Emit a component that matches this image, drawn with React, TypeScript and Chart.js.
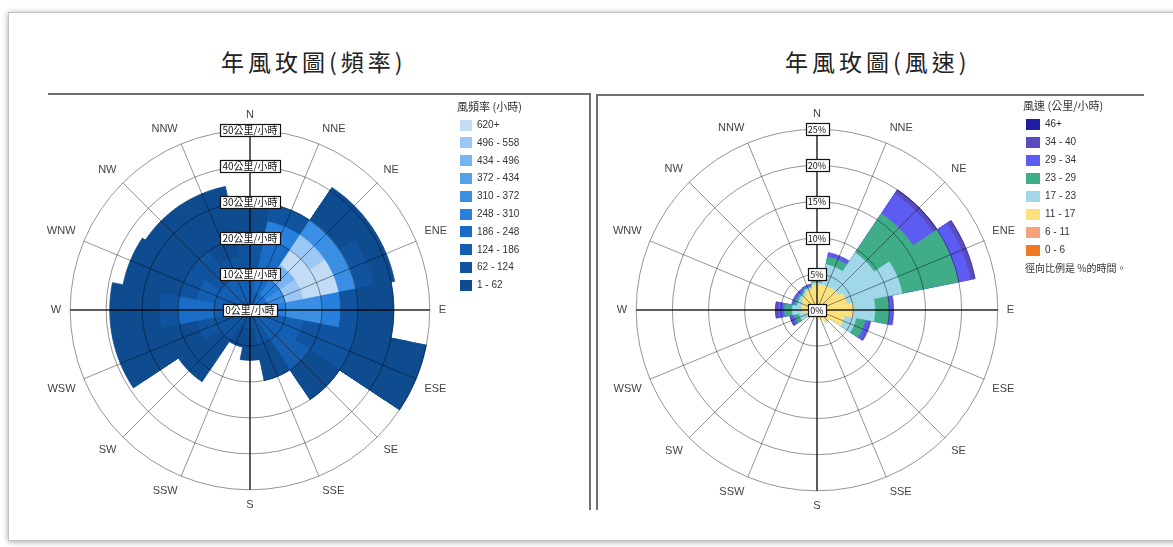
import React, { useEffect, useRef } from 'react';
import { Chart, registerables } from 'chart.js';

Chart.register(...registerables);

// ---------------- shared ----------------
const directions = ['N', 'NNE', 'NE', 'ENE', 'E', 'ESE', 'SE', 'SSE', 'S', 'SSW', 'SW', 'WSW', 'W', 'WNW', 'NW', 'NNW'];

// ---------------- left: frequency rose (radius = wind speed, colour = hours) ----------------
const freqTitle = '年風玫圖(頻率)';
const freqLegendTitle = '風頻率 (小時)';
const freqClassLabels = ['1 - 62', '62 - 124', '124 - 186', '186 - 248', '248 - 310', '310 - 372', '372 - 434', '434 - 496', '496 - 558', '620+'];
const freqClassColors = ['#0e4b8f', '#1054a0', '#145fb2', '#1a6dc7', '#2780dc', '#3a8fe4', '#57a1ea', '#78b4ef', '#9ac7f3', '#c3dcf6'];
const freqAxisMax = 50;
const freqAxisStep = 10;
const freqBinWidth = 5; // km/h per radial cell
// highest speed reached in each direction (km/h)
const freqMaxSpeed = [29, 30, 41, 41, 40, 50, 30, 20, 14, 10.5, 24, 39, 39, 36, 35, 35];
// frequency class (1 = "1 - 62" ... 10 = "620+") of each 5 km/h cell, inner to outer
const freqLevels = [
  [3, 3, 2, 2, 1, 1],
  [3, 4, 4, 4, 5, 2],
  [4, 5, 8, 10, 9, 6, 1, 1, 1],
  [4, 6, 9, 10, 10, 6, 2, 1, 1],
  [3, 5, 6, 6, 5, 2, 1, 1],
  [3, 3, 3, 2, 2, 2, 1, 1, 1, 1],
  [3, 3, 3, 3, 1, 1],
  [2, 2, 1, 1],
  [2, 1, 1],
  [2, 1, 1],
  [2, 2, 1, 1, 1],
  [2, 2, 2, 1, 1, 1, 1, 1],
  [3, 3, 4, 4, 2, 1, 1, 1],
  [3, 3, 3, 2, 1, 1, 1, 1],
  [3, 3, 2, 2, 1, 1, 1],
  [3, 3, 2, 1, 1, 1, 1],
];

// ---------------- right: speed rose (radius = % of time) ----------------
const speedTitle = '年風玫圖(風速)';
const speedLegendTitle = '風速 (公里/小時)';
const speedNote = '徑向比例是 %的時間。';
const speedBinLabels = ['0 - 6', '6 - 11', '11 - 17', '17 - 23', '23 - 29', '29 - 34', '34 - 40', '46+'];
const speedBinColors = ['#ef7a22', '#f6a07c', '#fde17c', '#a0d8ea', '#3fae88', '#5d5cf2', '#5a4cbd', '#1f1da6'];
const speedAxisMax = 25;
const speedAxisStep = 5;
// percent of time per direction and speed bin
const speedPct = [
  [0.2, 0.5, 2.8, 0.3, 0.1, 0.1, 0, 0],
  [0.2, 0.4, 2.9, 2.9, 1.1, 0.5, 0.1, 0],
  [0.2, 0.4, 3.0, 5.9, 6.5, 3.3, 0.6, 0.1],
  [0.2, 0.4, 3.6, 7.8, 7.9, 1.7, 0.6, 0.1],
  [0.2, 0.5, 4.3, 3.0, 1.9, 0.5, 0.2, 0],
  [0.3, 0.6, 3.0, 1.6, 1.3, 0.5, 0.3, 0],
  [0.5, 0.8, 0.7, 0.1, 0, 0, 0, 0],
  [0.4, 0.6, 0.4, 0, 0, 0, 0, 0],
  [0.3, 0.4, 0.3, 0, 0, 0, 0, 0],
  [0.3, 0.3, 0.3, 0, 0, 0, 0, 0],
  [0.3, 0.3, 0.4, 0.2, 0, 0, 0, 0],
  [0.2, 0.3, 1.0, 1.0, 0.7, 0.4, 0.2, 0.05],
  [0.2, 0.3, 1.5, 1.4, 1.1, 0.8, 0.4, 0.05],
  [0.2, 0.3, 1.7, 0.6, 0.4, 0.3, 0.1, 0],
  [0.2, 0.3, 2.0, 0.4, 0.3, 0.3, 0.1, 0],
  [0.2, 0.3, 2.4, 0.3, 0.2, 0.2, 0.1, 0],
];

// ---------------- helpers ----------------
// each direction is drawn as two half-sectors so that spokes and labels sit on the sector centres
const HALVES = directions.length * 2;
const dirOfHalf = (j: number) => Math.floor((j + 1) / 2) % directions.length;
const halfLabels = Array.from({ length: HALVES }, (_, j) => (j % 2 === 0 ? directions[j / 2] : ''));

function buildFreqDatasets() {
  const bins = Math.ceil(freqAxisMax / freqBinWidth);
  const sets: any[] = [];
  for (let k = 0; k < bins; k++) {
    const data: number[] = [];
    const colors: string[] = [];
    for (let j = 0; j < HALVES; j++) {
      const d = dirOfHalf(j);
      const lvl = freqLevels[d][k];
      const inner = k * freqBinWidth;
      if (freqMaxSpeed[d] > inner && lvl) {
        data.push(Math.min(freqMaxSpeed[d], (k + 1) * freqBinWidth));
        colors.push(freqClassColors[lvl - 1]);
      } else {
        data.push(0);
        colors.push('rgba(0,0,0,0)');
      }
    }
    sets.push({ data, backgroundColor: colors, borderColor: colors, borderWidth: 0.8 });
  }
  return sets;
}

function buildSpeedDatasets() {
  const sets: any[] = [];
  for (let k = 0; k < speedBinLabels.length; k++) {
    const data: number[] = [];
    for (let j = 0; j < HALVES; j++) {
      const d = dirOfHalf(j);
      let cum = 0;
      for (let q = 0; q <= k; q++) cum += speedPct[d][q];
      data.push(speedPct[d][k] > 0 ? cum : 0);
    }
    sets.push({
      label: speedBinLabels[k],
      data,
      backgroundColor: speedBinColors[k],
      borderColor: speedBinColors[k],
      borderWidth: 0.6,
    });
  }
  return sets;
}

function makeTickPlugin(format: (v: number) => string, fontSize: number) {
  return {
    id: 'tickBoxes',
    afterDraw(chart: any) {
      const s = chart.scales.r;
      const ctx = chart.ctx;
      ctx.save();
      ctx.font = `${fontSize}px "Noto Sans CJK TC", "Liberation Sans", sans-serif`;
      ctx.textAlign = 'center';
      ctx.textBaseline = 'middle';
      s.ticks.forEach((t: any) => {
        const p = s.getPointPositionForValue(0, t.value);
        const label = format(t.value);
        const w = Math.round(ctx.measureText(label).width + 5);
        const h = 12;
        const x = Math.round(p.x - w / 2) + 0.5;
        const y = Math.round(p.y - h / 2) + 0.5;
        ctx.fillStyle = '#ffffff';
        ctx.fillRect(x, y, w, h);
        ctx.strokeStyle = '#111';
        ctx.lineWidth = 1.2;
        ctx.strokeRect(x, y, w, h);
        ctx.fillStyle = '#111';
        ctx.fillText(label, p.x, p.y + 0.5);
      });
      ctx.restore();
    },
  };
}

type RoseProps = {
  left: number;
  top: number;
  width: number;
  height: number;
  datasets: any[];
  max: number;
  step: number;
  format: (v: number) => string;
  tickFont: number;
};

function Rose({ left, top, width, height, datasets, max, step, format, tickFont }: RoseProps) {
  const ref = useRef<HTMLCanvasElement>(null);
  useEffect(() => {
    const chart = new Chart(ref.current as HTMLCanvasElement, {
      type: 'polarArea',
      data: { labels: halfLabels, datasets },
      options: {
        responsive: false,
        animation: false,
        layout: { padding: 0 },
        plugins: { legend: { display: false }, tooltip: { enabled: false } },
        scales: {
          r: {
            min: 0,
            max,
            startAngle: 0,
            ticks: { display: false, stepSize: step },
            grid: { circular: true, color: 'rgba(0,0,0,0.42)', lineWidth: 1, z: 1 } as any,
            angleLines: {
              display: true,
              color: (c: any) => (c.index % 8 === 0 ? 'rgba(0,0,0,0.85)' : 'rgba(0,0,0,0.42)'),
              lineWidth: (c: any) => (c.index % 2 === 1 ? 0 : c.index % 8 === 0 ? 1.5 : 1),
            },
            pointLabels: {
              display: true,
              padding: 9,
              color: '#444',
              font: { family: '"Liberation Sans", Arial, sans-serif', size: 11 },
            },
          },
        },
      } as any,
      plugins: [makeTickPlugin(format, tickFont)],
    });
    return () => chart.destroy();
  }, []);
  return (
    <canvas
      ref={ref}
      width={width}
      height={height}
      style={{ position: 'absolute', left, top, width, height }}
    />
  );
}

type LegendProps = {
  left: number;
  top: number;
  title: string;
  labels: string[];
  colors: string[];
  swatchW: number;
  rowH: number;
  note?: string;
};

function Legend({ left, top, title, labels, colors, swatchW, rowH, note }: LegendProps) {
  return (
    <div style={{ position: 'absolute', left, top, color: '#333', fontFamily: '"Liberation Sans", "Noto Sans CJK TC", sans-serif' }}>
      <div style={{ position: 'absolute', left: 0, top: 0, fontSize: 11, lineHeight: '14px', whiteSpace: 'nowrap', fontFamily: '"Noto Sans CJK TC", sans-serif' }}>{title}</div>
      {labels.map((l, i) => (
        <div key={l} style={{ position: 'absolute', left: 3, top: 20 + i * rowH, height: 12, display: 'flex', alignItems: 'center', whiteSpace: 'nowrap' }}>
          <span style={{ display: 'inline-block', width: swatchW, height: 11, background: colors[i], marginRight: 5 }} />
          <span style={{ fontSize: 10, lineHeight: '12px' }}>{l}</span>
        </div>
      ))}
      {note ? (
        <div style={{ position: 'absolute', left: 2, top: 20 + labels.length * rowH, fontSize: 10, lineHeight: '12px', whiteSpace: 'nowrap', fontFamily: '"Noto Sans CJK TC", sans-serif' }}>{note}</div>
      ) : null}
    </div>
  );
}

export default function App() {
  const freqSets = buildFreqDatasets();
  const speedSets = buildSpeedDatasets();
  const titleStyle: React.CSSProperties = {
    position: 'absolute',
    top: 48,
    fontSize: 23,
    lineHeight: '27px',
    letterSpacing: 4,
    color: '#222',
    whiteSpace: 'nowrap',
    fontFamily: '"Noto Sans CJK TC", sans-serif',
  };
  const line = (l: number, t: number, w: number, h: number): React.CSSProperties => ({
    position: 'absolute', left: l, top: t, width: w, height: h, background: '#707070',
  });
  return (
    <div style={{ position: 'fixed', left: 0, top: 0, width: 1173, height: 547, background: '#ffffff', overflow: 'hidden' }}>
      <div style={{ position: 'absolute', left: 8, top: 12, width: 1200, height: 527, border: '1px solid #c4c4c4', boxShadow: '0 1px 6px rgba(0,0,0,0.35)', background: '#fff' }} />
      <div style={{ ...titleStyle, left: 221 }}>{freqTitle}</div>
      <div style={{ ...titleStyle, left: 785 }}>{speedTitle}</div>
      <div style={line(48, 93, 542, 2)} />
      <div style={line(589, 93, 2, 417)} />
      <div style={line(596, 94, 2, 416)} />
      <div style={line(596, 94, 548, 2)} />
      <Rose left={29} top={108} width={440} height={404} datasets={freqSets} max={freqAxisMax} step={freqAxisStep} format={(v) => `${v}公里/小時`} tickFont={10} />
      <Rose left={595} top={107} width={440} height={406} datasets={speedSets} max={speedAxisMax} step={speedAxisStep} format={(v) => `${v}%`} tickFont={9} />
      <Legend left={457} top={99} title={freqLegendTitle} labels={[...freqClassLabels].reverse()} colors={[...freqClassColors].reverse()} swatchW={12} rowH={17.8} />
      <Legend left={1023} top={98} title={speedLegendTitle} labels={[...speedBinLabels].reverse()} colors={[...speedBinColors].reverse()} swatchW={14} rowH={18} note={speedNote} />
    </div>
  );
}
